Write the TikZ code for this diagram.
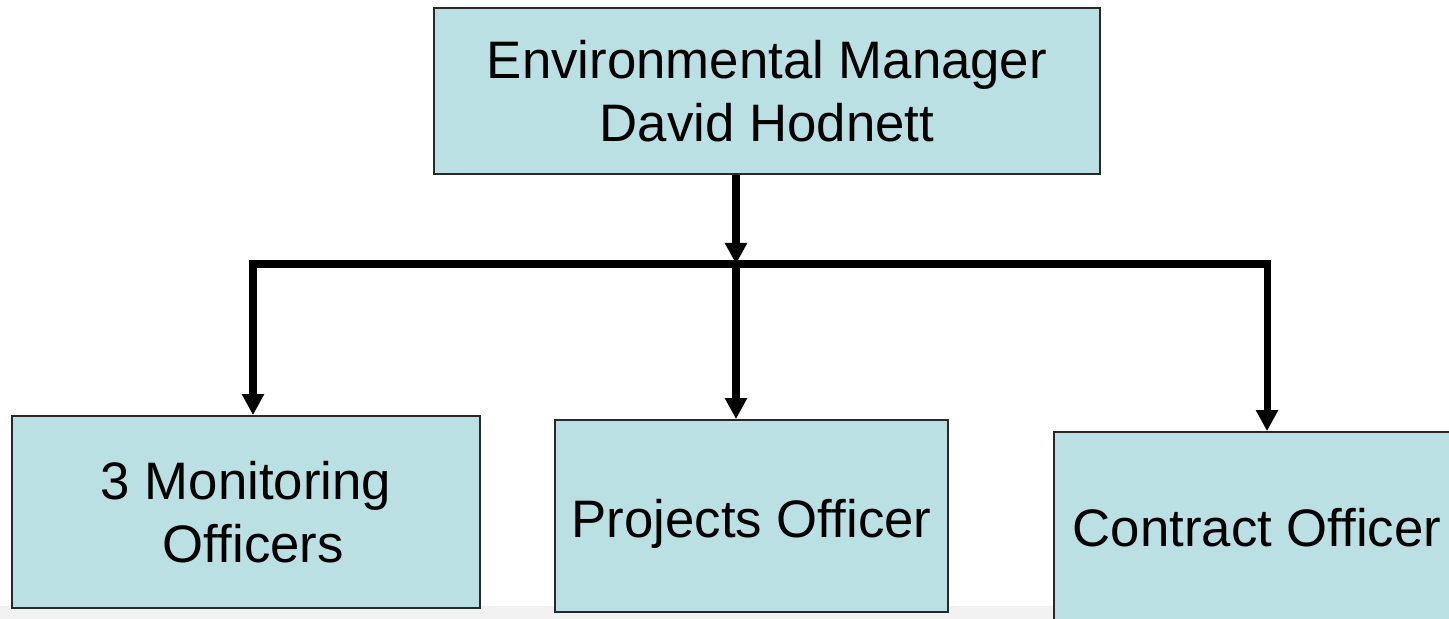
\documentclass[tikz,border=0pt]{standalone}
\usepackage{fontspec}
\setmainfont{Liberation Sans}
\usetikzlibrary{arrows.meta}
\definecolor{boxfill}{RGB}{186,224,227}
\definecolor{boxline}{RGB}{40,40,40}
\definecolor{stripgray}{RGB}{242,242,242}
\begin{document}
\begin{tikzpicture}[x=0.01cm,y=-0.01cm,
  orgbox/.style={draw=boxline, line width=0.5pt, fill=boxfill, inner sep=0pt,
    align=center, font=\fontsize{15}{17.9}\selectfont},
  conn/.style={line width=2pt, black, line join=miter,
    -{Triangle[length=6pt,width=6pt]}},
  conn2/.style={line width=2pt, black, line join=miter,
    {Triangle[length=6pt,width=6pt]}-{Triangle[length=6pt,width=6pt]}}
]
\clip (0,0) rectangle (1449,619);
\fill[white] (0,0) rectangle (1449,619);
\fill[stripgray] (0,606) rectangle (1449,619);

\node[orgbox, minimum width=666*0.01cm, minimum height=166*0.01cm] (top) at (767,91)
  {Environmental Manager\\David Hodnett};
\node[orgbox, minimum width=468*0.01cm, minimum height=192*0.01cm] (mon) at (246,512)
  {3 Monitoring\\\hspace*{0.278em}Officers};
\node[orgbox, minimum width=393*0.01cm, minimum height=192*0.01cm,
  text height=15.5pt, text depth=3.2pt] (proj) at (751.5,516)
  {Projects Officer};
\node[orgbox, minimum width=406*0.01cm, minimum height=192*0.01cm] (con) at (1257,528)
  {Contract Officer};

\coordinate (j) at (736,264);
\coordinate (jl) at (253,264);
\coordinate (jr) at (1267,264);

\draw[conn] (top.south -| j) -- (j);
\draw[conn2] (mon.north -| jl) -- (jl) -- (jr) -- (jr |- con.north);
\draw[conn] (j) -- (j |- proj.north);
\end{tikzpicture}
\end{document}
